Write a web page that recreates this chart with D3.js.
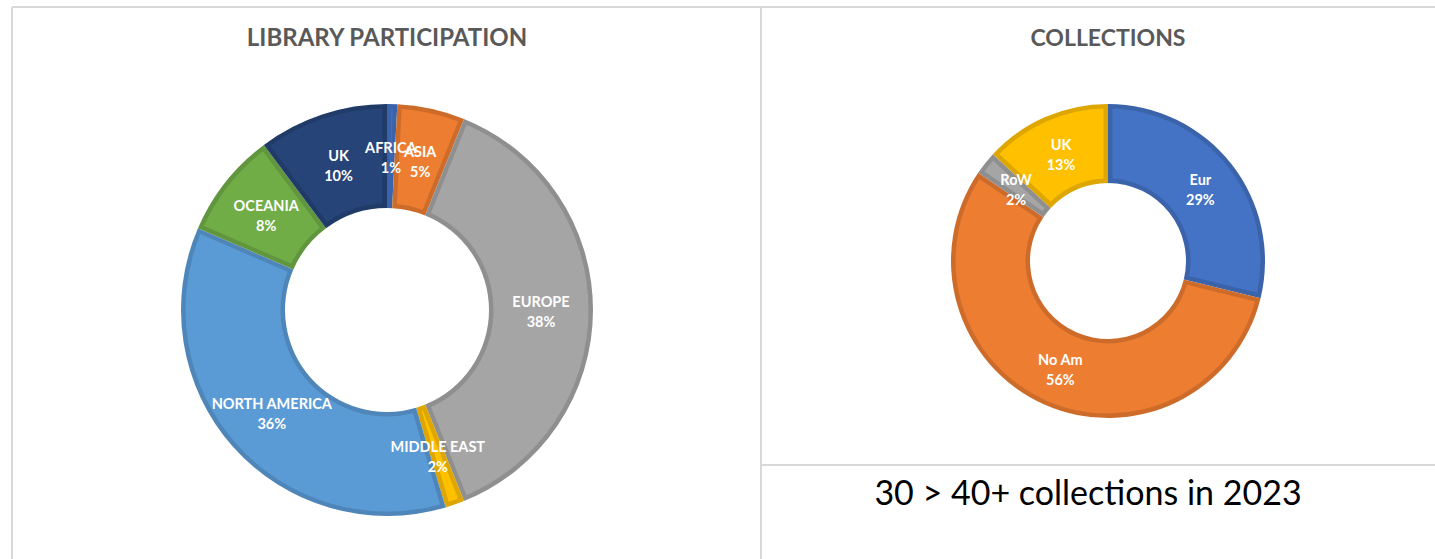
<!DOCTYPE html>
<html>
<head>
<meta charset="utf-8">
<script src="https://cdn.jsdelivr.net/npm/d3@7"></script>
<style>
  html, body { margin: 0; padding: 0; background: #fff; }
  svg { display: block; }
  .title { font-family: Lato, "Open Sans", sans-serif; font-weight: 700; fill: #595959; }
  .lbl { font-family: Lato, "Open Sans", sans-serif; font-weight: 700; fill: #fff; }
</style>
</head>
<body>
<svg id="chart"></svg>
<script>
// library participation, clockwise from 12 o'clock
const libRegions = ['AFRICA', 'ASIA', 'EUROPE', 'MIDDLE EAST', 'NORTH AMERICA', 'OCEANIA', 'UK'];
const libShare = [0.8, 5.3, 37.8, 1.5, 36.1, 8.3, 10.2];
const libColors = ['#4472C4', '#ED7D31', '#A5A5A5', '#FFC000', '#5B9BD5', '#70AD47', '#264478'];

// collections, clockwise from 12 o'clock
const colRegions = ['Eur', 'No Am', 'RoW', 'UK'];
const colShare = [28.8, 55.7, 2.4, 13.1];
const colColors = ['#4472C4', '#ED7D31', '#A5A5A5', '#FFC000'];

const W = 1435, H = 559;
const BORDER = '#D9D9D9';

const svg = d3.select('#chart')
  .attr('width', W)
  .attr('height', H);

// panel frames
svg.append('line').attr('x1', 12).attr('x2', W).attr('y1', 7).attr('y2', 7);
svg.append('line').attr('x1', 12).attr('x2', 12).attr('y1', 7).attr('y2', H);
svg.append('line').attr('x1', 761).attr('x2', 761).attr('y1', 7).attr('y2', H);
svg.append('line').attr('x1', 761).attr('x2', W).attr('y1', 465).attr('y2', 465);
svg.selectAll('line').attr('stroke', BORDER).attr('stroke-width', 2);

function donut(cx, cy, rIn, rOut, names, values, colors, title, titleSize) {
  const g = svg.append('g').attr('transform', `translate(${cx},${cy})`);
  const total = d3.sum(values);
  const pie = d3.pie().sort(null).value(d => d.v);
  const arcs = pie(names.map((n, i) => ({ n: n, v: values[i], c: colors[i] })));

  // excel style: darker rim drawn inside each slice
  const bw = 4.5;
  const outer = d3.arc().innerRadius(rIn).outerRadius(rOut);
  const inner = d3.arc()
    .innerRadius(rIn + bw)
    .outerRadius(rOut - bw)
    .padRadius(rOut)
    .padAngle(2 * bw / rOut);

  g.selectAll('path.edge')
    .data(arcs)
    .join('path')
    .attr('class', 'edge')
    .attr('d', outer)
    .attr('fill', d => d3.color(d.data.c).darker(0.4));

  g.selectAll('path.face')
    .data(arcs)
    .join('path')
    .attr('class', 'face')
    .attr('d', inner)
    .attr('fill', d => d.data.c);

  const lbl = g.selectAll('text.lbl')
    .data(arcs)
    .join('text')
    .attr('class', 'lbl')
    .attr('text-anchor', 'middle')
    .attr('font-size', 14.5)
    .attr('transform', d => `translate(${outer.centroid(d)})`);
  lbl.append('tspan').attr('x', 0).attr('y', -3).text(d => d.data.n);
  lbl.append('tspan').attr('x', 0).attr('y', 17)
    .text(d => Math.round(d.data.v / total * 100) + '%');

  svg.append('text')
    .attr('class', 'title')
    .attr('x', cx)
    .attr('y', 46)
    .attr('text-anchor', 'middle')
    .attr('font-size', titleSize)
    .text(title);
}

donut(387, 310, 102, 206, libRegions, libShare, libColors, 'LIBRARY PARTICIPATION', 24);
donut(1108, 261, 78, 157, colRegions, colShare, colColors, 'COLLECTIONS', 23);

svg.append('text')
  .attr('x', 1088)
  .attr('y', 505)
  .attr('text-anchor', 'middle')
  .attr('font-family', 'Lato, "Open Sans", sans-serif')
  .attr('font-size', 34)
  .attr('fill', '#000')
  .text('30 > 40+ collections in 2023');
</script>
</body>
</html>
